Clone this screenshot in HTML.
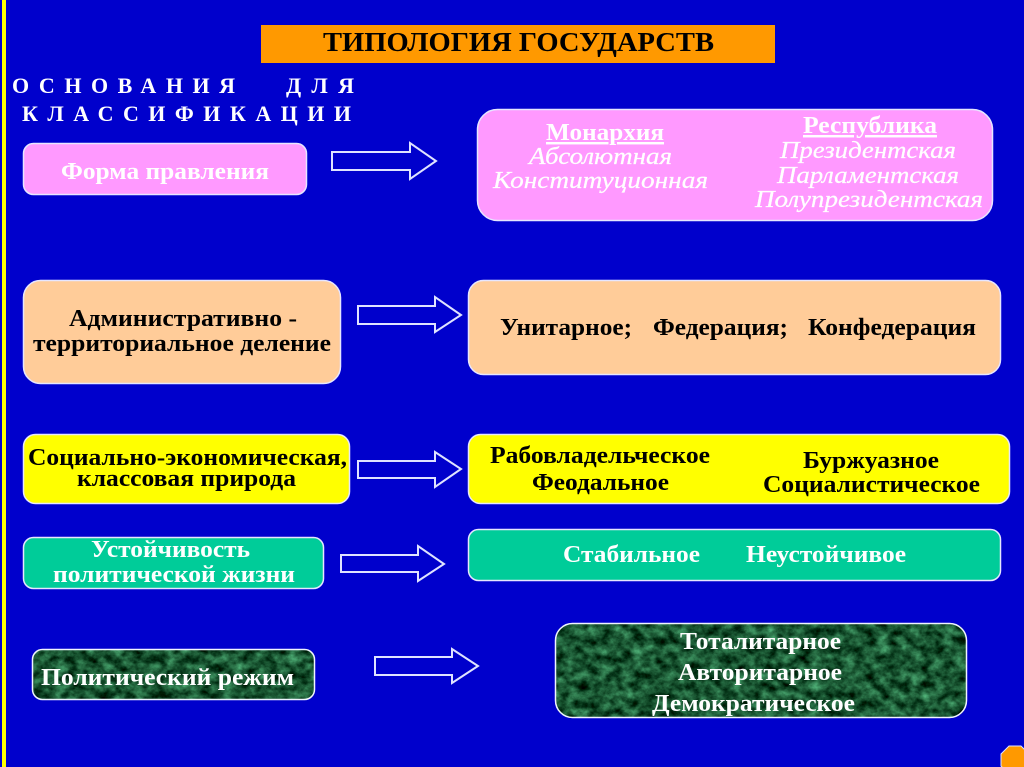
<!DOCTYPE html>
<html lang="ru">
<head>
<meta charset="utf-8">
<title>Типология государств</title>
<style>
html,body{margin:0;padding:0;width:1024px;height:767px;overflow:hidden;background:#0000cc}
svg{display:block}
text{font-family:"Liberation Serif","Noto Serif CJK SC",serif;font-weight:bold;font-size:24.5px}
.w{fill:#fff}
.k{fill:#000}
.i{font-style:italic;font-weight:normal;fill:#fff;stroke:#fff;stroke-width:.25px}
.box{stroke:#e6e6ff;stroke-width:1.5}
.arr{fill:#0000cc;stroke:#dfe3ff;stroke-width:2}
</style>
</head>
<body>
<svg width="1024" height="767" viewBox="0 0 1024 767" xmlns="http://www.w3.org/2000/svg">
<defs>
<filter id="marble" x="0" y="0" width="100%" height="100%" color-interpolation-filters="sRGB">
<feTurbulence type="fractalNoise" baseFrequency="0.09 0.11" numOctaves="5" seed="7"/>
<feColorMatrix type="matrix" values="0.5 0 0 0 -0.15  0.85 0 0 0 -0.09  0.65 0 0 0 -0.13  0 0 0 0 1"/>
</filter>
<clipPath id="c1"><rect x="32" y="649" width="283" height="51" rx="10"/></clipPath>
<clipPath id="c2"><rect x="555" y="623" width="412" height="95" rx="17"/></clipPath>
</defs>

<rect width="1024" height="767" fill="#0000cc"/>
<rect x="2" y="0" width="4" height="767" fill="#ffff00"/>

<rect x="261" y="25" width="514" height="38" fill="#ff9900"/>
<text class="k" x="323" y="51" style="font-size:27px" textLength="391" lengthAdjust="spacingAndGlyphs">ТИПОЛОГИЯ ГОСУДАРСТВ</text>

<text class="w" x="12" y="93" style="font-size:22px" textLength="223" lengthAdjust="spacing">ОСНОВАНИЯ</text>
<text class="w" x="286" y="93" style="font-size:22px" textLength="68" lengthAdjust="spacing">ДЛЯ</text>
<text class="w" x="22" y="121" style="font-size:22px" textLength="329" lengthAdjust="spacing">КЛАССИФИКАЦИИ</text>

<!-- Row 1 -->
<rect class="box" x="23.5" y="143.5" width="283" height="51" rx="10" fill="#ff99ff"/>
<text class="w" x="61" y="179" textLength="208" lengthAdjust="spacingAndGlyphs">Форма правления</text>
<polygon class="arr" points="332,152 410,152 410,143 436,161 410,179 410,170 332,170"/>
<rect class="box" x="477.5" y="109.5" width="515" height="111" rx="20" fill="#ff99ff"/>
<text class="w" x="546" y="140" textLength="118" lengthAdjust="spacingAndGlyphs" text-decoration="underline">Монархия</text>
<text class="i" x="529" y="164" textLength="143" lengthAdjust="spacingAndGlyphs">Абсолютная</text>
<text class="i" x="493" y="188" textLength="215" lengthAdjust="spacingAndGlyphs">Конституционная</text>
<text class="w" x="803" y="133" textLength="134" lengthAdjust="spacingAndGlyphs" text-decoration="underline">Республика</text>
<text class="i" x="780" y="158" textLength="176" lengthAdjust="spacingAndGlyphs">Президентская</text>
<text class="i" x="777" y="183" textLength="182" lengthAdjust="spacingAndGlyphs">Парламентская</text>
<text class="i" x="755" y="207" textLength="228" lengthAdjust="spacingAndGlyphs">Полупрезидентская</text>

<!-- Row 2 -->
<rect class="box" x="23.5" y="280.5" width="317" height="103" rx="17" fill="#ffcc99"/>
<text class="k" x="69" y="326" textLength="228" lengthAdjust="spacingAndGlyphs">Административно -</text>
<text class="k" x="33" y="351" textLength="298" lengthAdjust="spacingAndGlyphs">территориальное деление</text>
<polygon class="arr" points="358,306 435,306 435,297 461,315 435,332 435,324 358,324"/>
<rect class="box" x="468.5" y="280.5" width="532" height="94" rx="15" fill="#ffcc99"/>
<text class="k" x="500" y="335" textLength="132" lengthAdjust="spacingAndGlyphs">Унитарное;</text>
<text class="k" x="653" y="335" textLength="135" lengthAdjust="spacingAndGlyphs">Федерация;</text>
<text class="k" x="808" y="335" textLength="168" lengthAdjust="spacingAndGlyphs">Конфедерация</text>

<!-- Row 3 -->
<rect class="box" x="23.5" y="434.5" width="326" height="69" rx="12" fill="#ffff00"/>
<text class="k" x="28" y="465" textLength="319" lengthAdjust="spacingAndGlyphs">Социально-экономическая,</text>
<text class="k" x="77" y="486" textLength="219" lengthAdjust="spacingAndGlyphs">классовая природа</text>
<polygon class="arr" points="358,461 435,461 435,452 461,469 435,487 435,478 358,478"/>
<rect class="box" x="468.5" y="434.5" width="541" height="69" rx="12" fill="#ffff00"/>
<text class="k" x="490" y="463" textLength="220" lengthAdjust="spacingAndGlyphs">Рабовладельческое</text>
<text class="k" x="532" y="490" textLength="137" lengthAdjust="spacingAndGlyphs">Феодальное</text>
<text class="k" x="803" y="468" textLength="136" lengthAdjust="spacingAndGlyphs">Буржуазное</text>
<text class="k" x="763" y="492" textLength="217" lengthAdjust="spacingAndGlyphs">Социалистическое</text>

<!-- Row 4 -->
<rect class="box" x="23.5" y="537.5" width="300" height="51" rx="10" fill="#00cc99"/>
<text class="w" x="91" y="557" textLength="159" lengthAdjust="spacingAndGlyphs">Устойчивость</text>
<text class="w" x="53" y="582" textLength="242" lengthAdjust="spacingAndGlyphs">политической жизни</text>
<polygon class="arr" points="341,555 418,555 418,546 444,564 418,581 418,572 341,572"/>
<rect class="box" x="468.5" y="529.5" width="532" height="51" rx="10" fill="#00cc99"/>
<text class="w" x="563" y="562" textLength="137" lengthAdjust="spacingAndGlyphs">Стабильное</text>
<text class="w" x="746" y="562" textLength="160" lengthAdjust="spacingAndGlyphs">Неустойчивое</text>

<!-- Row 5 -->
<g clip-path="url(#c1)"><rect x="32" y="649" width="283" height="51" filter="url(#marble)"/></g>
<rect x="32.5" y="649.5" width="282" height="50" rx="10" fill="none" stroke="#f0f4ff" stroke-width="1.5"/>
<text class="w" x="41" y="685" textLength="253" lengthAdjust="spacingAndGlyphs">Политический режим</text>
<polygon class="arr" points="375,657 452,657 452,649 478,666 452,683 452,675 375,675"/>
<g clip-path="url(#c2)"><rect x="555" y="623" width="412" height="95" filter="url(#marble)"/></g>
<rect x="555.5" y="623.5" width="411" height="94" rx="17" fill="none" stroke="#f0f4ff" stroke-width="1.5"/>
<text class="w" x="680" y="649" textLength="161" lengthAdjust="spacingAndGlyphs">Тоталитарное</text>
<text class="w" x="678" y="680" textLength="164" lengthAdjust="spacingAndGlyphs">Авторитарное</text>
<text class="w" x="652" y="711" textLength="203" lengthAdjust="spacingAndGlyphs">Демократическое</text>

<!-- Corner button -->
<polygon points="1009,746 1021,746 1029,754 1029,766 1021,774 1009,774 1001,766 1001,754" fill="#ff9900" stroke="#dfe3ff" stroke-width="1"/>
</svg>
</body>
</html>
